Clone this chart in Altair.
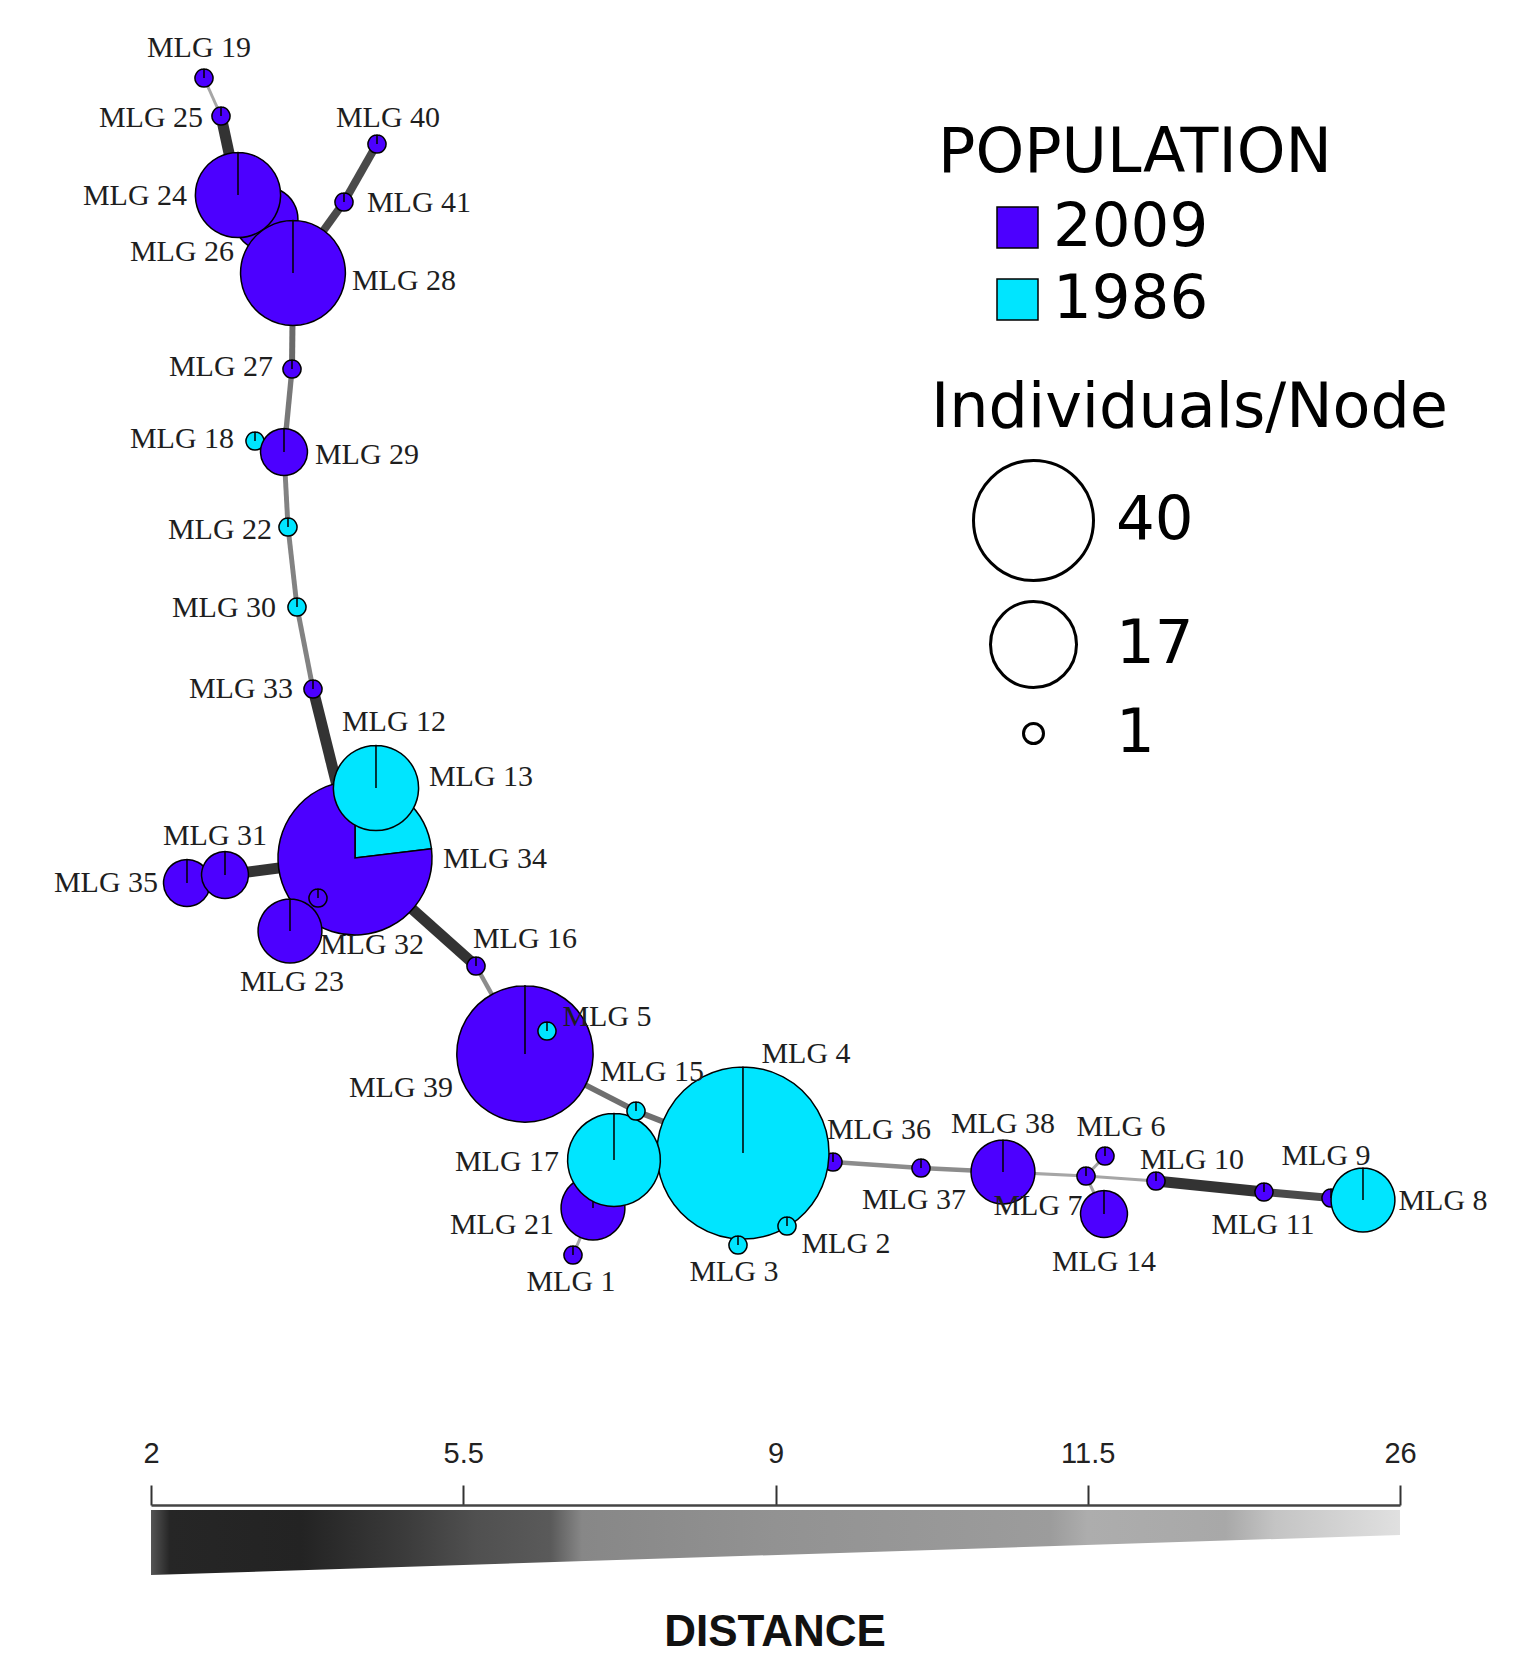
import math
import altair as alt
import pandas as pd

# ------------------------------------------------------------------ data
# nodes, listed in drawing order (first = bottom)
mlg_ids = [26, 18, 35, 12, 36, 9, 21, 24, 28, 34, 39, 4, 17, 8, 29, 31, 23, 13, 32, 5,
           2, 3, 1, 19, 25, 40, 41, 27, 22, 30, 33, 16, 15, 37, 38, 7, 6, 14, 10, 11]
node_x = [266, 255, 187, 376, 833, 1331, 593, 238, 293, 355, 525, 743, 614, 1363, 284, 225, 290, 376, 318, 547,
          787, 738, 573, 204, 221, 377, 344, 292, 288, 297, 313, 476, 636, 921, 1003, 1086, 1105, 1104, 1156, 1264]
node_y = [219, 441, 883, 778, 1162, 1198, 1208, 195, 273, 858, 1054, 1153, 1160, 1200, 452, 875, 931, 788, 898, 1031,
          1226, 1245, 1255, 78, 116, 144, 202, 369, 527, 607, 689, 966, 1111, 1168, 1172, 1176, 1156, 1214, 1181, 1192]
n_2009 = [3, 0, 2, 0, 1, 1, 3, 5, 8, 20, 17, 0, 0, 0, 2, 2, 3, 0, 1, 0,
          0, 0, 1, 1, 1, 1, 1, 1, 0, 0, 1, 1, 0, 1, 3, 1, 1, 2, 1, 1]
n_1986 = [0, 1, 0, 1, 0, 0, 0, 0, 0, 6, 0, 40, 6, 3, 0, 0, 0, 5, 0, 1,
          1, 1, 0, 0, 0, 0, 0, 0, 1, 1, 0, 0, 1, 0, 0, 0, 0, 0, 0, 0]
label_x = [182, 182, 106, 394, 879, 1326, 502, 135, 404, 495, 401, 806, 507, 1443, 367, 215, 292, 481, 372, 607,
           846, 734, 571, 199, 151, 388, 419, 221, 220, 224, 241, 525, 652, 914, 1003, 1038, 1121, 1104, 1192, 1263]
label_y = [252, 439, 883, 722, 1130, 1156, 1225, 196, 281, 859, 1088, 1054, 1162, 1201, 455, 836, 982, 777, 945, 1017,
           1244, 1272, 1282, 48, 118, 118, 203, 367, 530, 608, 689, 939, 1072, 1200, 1124, 1206, 1127, 1262, 1160, 1225]

populations = ["2009", "1986"]
pop_colors = ["#4C00FF", "#00E5FF"]

# minimum spanning network edges
edge_from = [19, 25, 24, 26, 40, 41, 28, 27, 29, 29, 22, 30, 33, 34, 31, 34, 34, 34, 13, 34,
             16, 39, 39, 15, 4, 17, 21, 4, 4, 4, 36, 37, 38, 7, 7, 7, 10, 11, 9]
edge_to = [25, 24, 26, 28, 41, 28, 27, 29, 18, 22, 30, 33, 34, 31, 35, 23, 32, 13, 12, 16,
           39, 5, 15, 4, 17, 21, 1, 3, 2, 36, 37, 38, 7, 6, 14, 10, 11, 9, 8]
edge_dist = [11.5, 2, 2, 2, 3.5, 3.5, 5.5, 7, 9, 8, 8, 8, 2, 2, 2, 2, 2, 2, 2, 2,
             9, 2, 6, 6, 2, 2, 11.5, 2, 2, 9, 9, 9, 11.5, 11.5, 11.5, 11.5, 2, 3.5, 2]

dist_ticks = ["2", "5.5", "9", "11.5", "26"]
band_ends = ["2", "26"]
band_top = [5, 5]
band_bottom = [70, 30]

size_legend_values = [40, 17, 1]

# ------------------------------------------------------------------ tables
pos = {m: (node_x[i], node_y[i]) for i, m in enumerate(mlg_ids)}

arc_rows = []
for i, m in enumerate(mlg_ids):
    total = n_2009[i] + n_1986[i]
    parts = [(p, c) for p, c in (("1986", n_1986[i]), ("2009", n_2009[i])) if c > 0]
    start = 0.0
    for p, c in parts:
        end = start + 2 * math.pi * c / total
        if len(parts) == 1:
            end = 2 * math.pi - 1e-3
        arc_rows.append(dict(mlg="MLG %d" % m, x=node_x[i], y=node_y[i], count=total,
                             pop=p, t0=start, t1=end))
        start = end
arcs = pd.DataFrame(arc_rows)

nodes = pd.DataFrame(dict(mlg=["MLG %d" % m for m in mlg_ids], x=node_x, y=node_y,
                          count=[a + b for a, b in zip(n_2009, n_1986)],
                          lx=label_x, ly=label_y))

edges = pd.DataFrame(dict(
    x=[pos[a][0] for a in edge_from], y=[pos[a][1] for a in edge_from],
    x2=[pos[b][0] for b in edge_to], y2=[pos[b][1] for b in edge_to],
    dist=edge_dist))

band = pd.DataFrame(dict(d=band_ends, top=band_top, bottom=band_bottom))

# ------------------------------------------------------------------ scales
W, H = 1524, 1320
xs = alt.Scale(domain=[8, 8 + W], nice=False, zero=False)
ys = alt.Scale(domain=[8, 8 + H], nice=False, zero=False, reverse=True)
dist_domain = [2, 3.5, 5.5, 9, 11.5, 26]

edge_layer = alt.Chart(edges).mark_rule(strokeCap="butt").encode(
    x=alt.X("x:Q", scale=xs, axis=None),
    y=alt.Y("y:Q", scale=ys, axis=None),
    x2="x2:Q", y2="y2:Q",
    stroke=alt.Stroke("dist:Q", legend=None, scale=alt.Scale(
        domain=dist_domain,
        range=["#333333", "#4a4a4a", "#6a6a6a", "#8c8c8c", "#a6a6a6", "#d4d4d4"])),
    strokeWidth=alt.StrokeWidth("dist:Q", legend=None, scale=alt.Scale(
        domain=dist_domain, range=[11, 8, 6, 4.5, 3, 2])),
)

arc_layer = alt.Chart(arcs).mark_arc(stroke="black", strokeWidth=1.5).encode(
    x=alt.X("x:Q", scale=xs, axis=None),
    y=alt.Y("y:Q", scale=ys, axis=None),
    theta=alt.Theta("t0:Q", scale=None, stack=False),
    theta2="t1:Q",
    radius=alt.Radius("count:Q", scale=alt.Scale(type="log", domain=[1, 40], range=[9, 86], zero=False)),
    radius2=alt.value(0),
    fill=alt.Fill("pop:N", scale=alt.Scale(domain=populations, range=pop_colors),
                  legend=alt.Legend(title="POPULATION", orient="none", legendX=930, legendY=115,
                                    direction="vertical", padding=0,
                                    titleFont="DejaVu Sans", titleFontSize=62, titleFontWeight="normal",
                                    titleColor="black", titleLimit=1000, titlePadding=12,
                                    labelFont="DejaVu Sans", labelFontSize=61, labelColor="black",
                                    labelLimit=1000, labelOffset=5,
                                    symbolType="square", symbolSize=1681, symbolStrokeColor="black",
                                    symbolStrokeWidth=1.5, symbolOffset=49, rowPadding=10)),
)

size_layer = alt.Chart(nodes).mark_point(opacity=0, filled=False, color="black").encode(
    x=alt.X("x:Q", scale=xs, axis=None),
    y=alt.Y("y:Q", scale=ys, axis=None),
    size=alt.Size("count:Q", scale=alt.Scale(domain=[1, 17, 40], range=[400, 7396, 14400]),
                  legend=alt.Legend(title="Individuals/Node", orient="none", legendX=923, legendY=370,
                                    values=size_legend_values, direction="vertical", padding=0,
                                    titleFont="DejaVu Sans", titleFontSize=62, titleFontWeight="normal",
                                    titleColor="black", titleLimit=1000, titlePadding=19,
                                    labelFont="DejaVu Sans", labelFontSize=61, labelColor="black",
                                    labelLimit=1000, labelOffset=21,
                                    symbolType="circle", symbolStrokeColor="black", symbolStrokeWidth=3,
                                    symbolFillColor="transparent", symbolOpacity=1, symbolOffset=41,
                                    rowPadding=8)),
)

label_layer = alt.Chart(nodes).mark_text(font="Liberation Serif", fontSize=30, color="#1e1e1e",
                                         align="center", baseline="middle").encode(
    x=alt.X("lx:Q", scale=xs, axis=None),
    y=alt.Y("ly:Q", scale=ys, axis=None),
    text="mlg:N",
)

network = alt.layer(edge_layer, arc_layer, size_layer, label_layer).properties(width=W, height=H)

gradient = alt.Gradient(
    gradient="linear", x1=0, x2=1, y1=0, y2=0,
    stops=[alt.GradientStop(color=c, offset=o) for o, c in [
        (0.0, "#555555"), (0.015, "#262626"), (0.12, "#232323"), (0.2, "#3a3a3a"),
        (0.26, "#505050"), (0.32, "#5a5a5a"), (0.345, "#878787"), (0.5, "#929292"),
        (0.72, "#9c9c9c"), (0.75, "#adadad"), (0.86, "#a8a8a8"), (0.9, "#c4c4c4"),
        (1.0, "#e0e0e0")]])

dist_chart = alt.Chart(band).mark_area(color=gradient).encode(
    x=alt.X("d:O", scale=alt.Scale(type="point", domain=dist_ticks, range=[143, 1392], padding=0),
            axis=alt.Axis(orient="top", title=None, tickSize=20, tickWidth=2, tickColor="#333333",
                          domainColor="#444444", domainWidth=2.5, labelFont="Liberation Sans",
                          labelFontSize=29, labelColor="#222222", labelPadding=17, labelAngle=0,
                          grid=False)),
    y=alt.Y("top:Q", scale=alt.Scale(domain=[0, 70], reverse=True, nice=False, zero=False), axis=None),
    y2="bottom:Q",
).properties(
    width=W, height=70,
    title=alt.TitleParams("DISTANCE", orient="bottom", anchor="middle", font="Liberation Sans",
                          fontSize=44, fontWeight="bold", color="#111111", offset=36,
                          baseline="top", dx=5),
)

chart = alt.vconcat(network, dist_chart, spacing=111).properties(
    padding=0, background="white").configure_view(strokeWidth=0)

chart.save("out.html", embed_options={"renderer": "svg", "actions": False})
